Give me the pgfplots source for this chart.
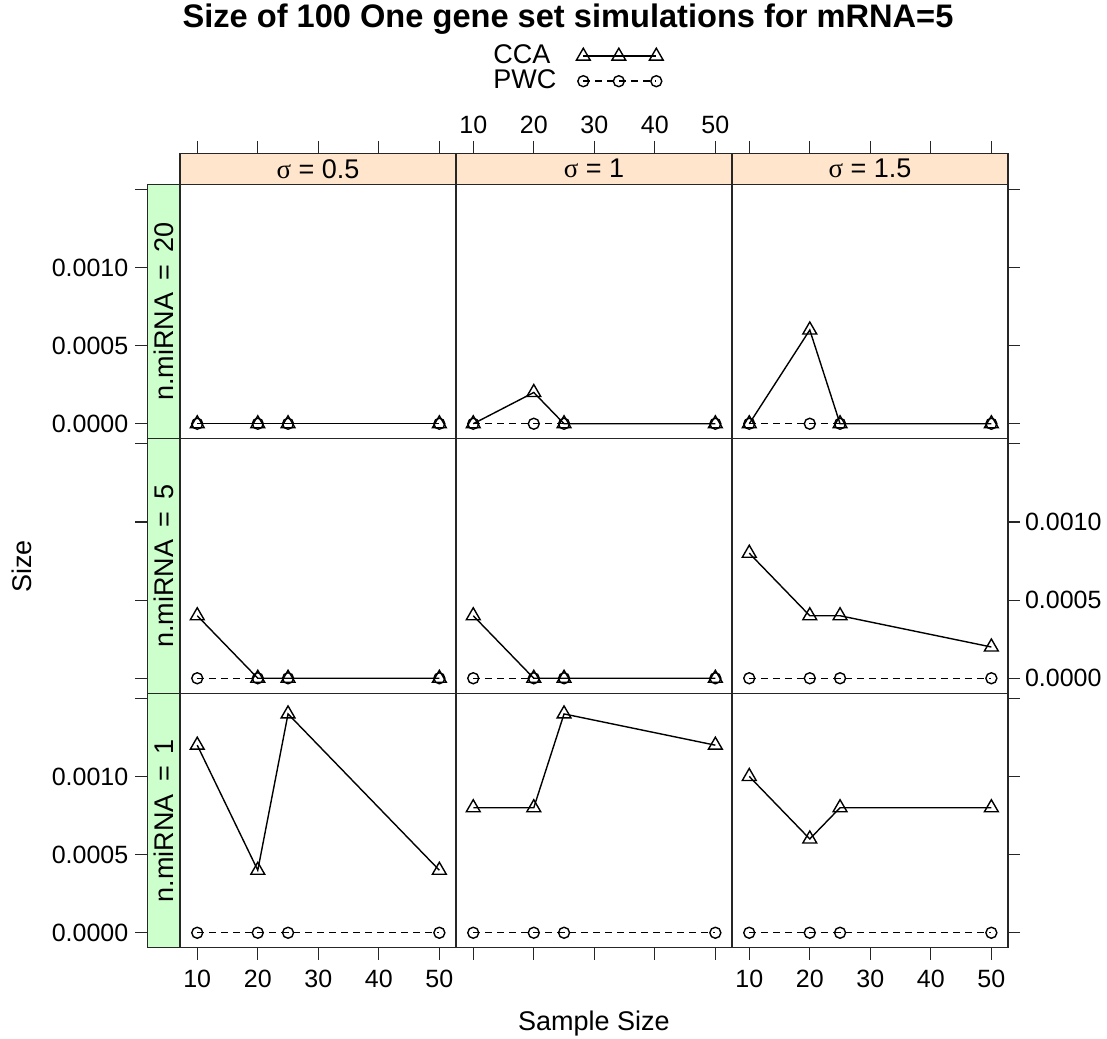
\documentclass[border=0pt]{standalone}
\usepackage{pgfplots}
\pgfplotsset{compat=1.18}
\usepackage{fontspec}
\setmainfont{Liberation Sans}
\newfontfamily\sigmafont{Liberation Serif}
\definecolor{stripP}{HTML}{FFE5CC}
\definecolor{stripG}{HTML}{CCFFCC}
\newcommand{\tickfont}{\fontsize{12.5}{15}\selectfont}
\newcommand{\labfont}{\fontsize{13.5}{16}\selectfont}
\newcommand{\sg}{{\sigmafont σ}}
\pgfplotsset{
  base/.style={scale only axis, anchor=south west, scaled ticks=false,
    axis line style={black!85, line width=0.6pt},
    tick style={black!85, line width=0.6pt},
    tick align=outside, major tick length=6pt,
    tick label style={font=\tickfont},
    xtick=\empty, ytick=\empty},
  panel/.style={base, width=138pt, height=127.25pt,
    xmin=7.15, xmax=52.75, ymin=-0.0000962, ymax=0.001532},
  cca/.style={black, line width=0.7pt, mark=triangle, mark size=4pt, mark options={solid}},
  pwc/.style={black, line width=0.7pt, dash pattern=on 3.5pt off 2.5pt, mark=o, mark size=2.75pt, mark options={solid}},
  botx/.style={xtick={10,20,30,40,50}, xtick pos=left, xticklabel style={yshift=-1.5pt}},
  righty/.style={ytick={0,0.0005,0.001,0.0015}, ytick pos=right, yticklabel style={xshift=-1pt}},
  topstrip/.style={base, width=138pt, height=15.5pt, xmin=7.15, xmax=52.75, ymin=0, ymax=1,
     axis background/.style={fill=stripP}, xtick={10,20,30,40,50}, xtick pos=right, xticklabels={}},
  leftstrip/.style={base, width=16.35pt, height=127.25pt, xmin=0, xmax=1,
     ymin=-0.0000962, ymax=0.001532, axis background/.style={fill=stripG},
     ytick={0,0.0005,0.001,0.0015}, ytick pos=left, yticklabels={}},
}
\begin{document}
\begin{tikzpicture}
\useasboundingbox (0pt,0pt) rectangle (553.5pt,519pt);
% ---------- top strips ----------
\begin{axis}[topstrip, at={(90pt,426.85pt)}]
\node[font=\labfont] at (rel axis cs:0.5,0.5) {\sg{} = 0.5};
\end{axis}
\begin{axis}[topstrip, at={(228pt,426.85pt)}, xticklabels={10,20,30,40,50}]
\node[font=\labfont] at (rel axis cs:0.5,0.5) {\sg{} = 1};
\end{axis}
\begin{axis}[topstrip, at={(366pt,426.85pt)}]
\node[font=\labfont] at (rel axis cs:0.5,0.5) {\sg{} = 1.5};
\end{axis}
% ---------- left strips ----------
\begin{axis}[leftstrip, at={(73.65pt,299.6pt)}, yticklabels={0.0000,0.0005,0.0010,{}}]
\node[font=\labfont, rotate=90] at (rel axis cs:0.5,0.5) {n.miRNA\hspace{0.45em}=\hspace{0.45em}20};
\end{axis}
\begin{axis}[leftstrip, at={(73.65pt,172.35pt)}]
\node[font=\labfont, rotate=90] at (rel axis cs:0.5,0.5) {n.miRNA\hspace{0.45em}=\hspace{0.45em}5};
\end{axis}
\begin{axis}[leftstrip, at={(73.65pt,45.1pt)}, yticklabels={0.0000,0.0005,0.0010,{}}]
\node[font=\labfont, rotate=90] at (rel axis cs:0.5,0.5) {n.miRNA\hspace{0.45em}=\hspace{0.45em}1};
\end{axis}
% ---------- row 1: n.miRNA = 20 ----------
\begin{axis}[panel, at={(90pt,299.6pt)}]
\addplot[cca] coordinates {(10,0) (20,0) (25,0) (50,0)};
\addplot[pwc] coordinates {(10,0) (20,0) (25,0) (50,0)};
\end{axis}
\begin{axis}[panel, at={(228pt,299.6pt)},
  legend style={at={(axis description cs:0.134,1.554)}, anchor=north west, draw=none, fill=none,
    inner sep=0pt, row sep=0pt, column sep=10pt, font=\labfont,
    nodes={inner sep=0pt, text height=10pt, text depth=2.5pt}},
  legend cell align=left, legend plot pos=right,
  legend image code/.code={\draw[#1] plot coordinates {(8.5pt,0pt) (26.25pt,0pt) (45pt,0pt)};}]
\addplot[cca] coordinates {(10,0) (20,0.0002) (25,0) (50,0)};
\addlegendentry{CCA}
\addplot[pwc] coordinates {(10,0) (20,0) (25,0) (50,0)};
\addlegendentry{PWC}
\end{axis}
\begin{axis}[panel, righty, yticklabels={}, at={(366pt,299.6pt)}]
\addplot[cca] coordinates {(10,0) (20,0.0006) (25,0) (50,0)};
\addplot[pwc] coordinates {(10,0) (20,0) (25,0) (50,0)};
\end{axis}
% ---------- row 2: n.miRNA = 5 ----------
\begin{axis}[panel, at={(90pt,172.35pt)}]
\addplot[cca] coordinates {(10,0.0004) (20,0) (25,0) (50,0)};
\addplot[pwc] coordinates {(10,0) (20,0) (25,0) (50,0)};
\end{axis}
\begin{axis}[panel, at={(228pt,172.35pt)}]
\addplot[cca] coordinates {(10,0.0004) (20,0) (25,0) (50,0)};
\addplot[pwc] coordinates {(10,0) (20,0) (25,0) (50,0)};
\end{axis}
\begin{axis}[panel, righty, yticklabels={0.0000,0.0005,0.0010,{}}, at={(366pt,172.35pt)}]
\addplot[cca] coordinates {(10,0.0008) (20,0.0004) (25,0.0004) (50,0.0002)};
\addplot[pwc] coordinates {(10,0) (20,0) (25,0) (50,0)};
\end{axis}
% ---------- row 3: n.miRNA = 1 ----------
\begin{axis}[panel, botx, xticklabels={10,20,30,40,50}, at={(90pt,45.1pt)}]
\addplot[cca] coordinates {(10,0.0012) (20,0.0004) (25,0.0014) (50,0.0004)};
\addplot[pwc] coordinates {(10,0) (20,0) (25,0) (50,0)};
\end{axis}
\begin{axis}[panel, botx, xticklabels={}, at={(228pt,45.1pt)}]
\addplot[cca] coordinates {(10,0.0008) (20,0.0008) (25,0.0014) (50,0.0012)};
\addplot[pwc] coordinates {(10,0) (20,0) (25,0) (50,0)};
\end{axis}
\begin{axis}[panel, botx, xticklabels={10,20,30,40,50}, righty, yticklabels={}, at={(366pt,45.1pt)}]
\addplot[cca] coordinates {(10,0.001) (20,0.0006) (25,0.0008) (50,0.0008)};
\addplot[pwc] coordinates {(10,0) (20,0) (25,0) (50,0)};
\end{axis}
% ---------- titles ----------
\node[font=\bfseries\fontsize{16.3}{19}\selectfont, anchor=base] at (284pt,505pt) {Size of 100 One gene set simulations for mRNA=5};
\node[font=\labfont, anchor=base] at (297pt,4pt) {Sample Size};
\node[font=\labfont, anchor=base, rotate=90] at (15.85pt,235.65pt) {Size};
\end{tikzpicture}
\end{document}
